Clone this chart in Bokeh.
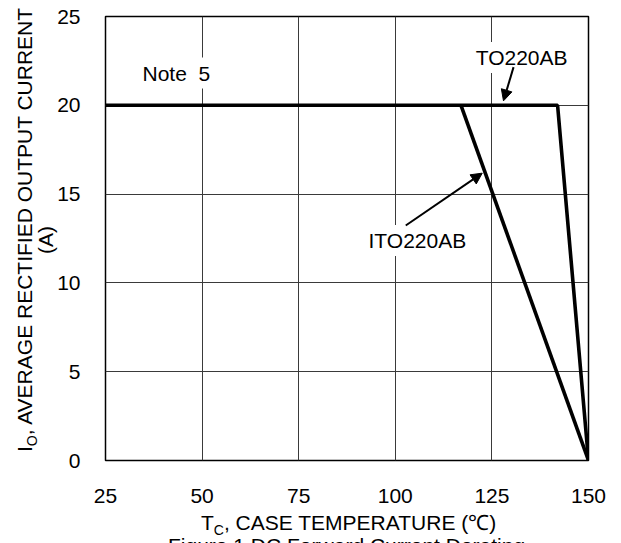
from bokeh.plotting import figure
from bokeh.models import Range1d, FixedTicker, Label, Arrow, NormalHead, Div
from bokeh.layouts import row, column
from bokeh.embed import file_html
from bokeh.resources import INLINE

# ---- data ----
temp_to220 = [25, 142, 150]
io_to220 = [20, 20, 0]
temp_ito220 = [117, 150]
io_ito220 = [20, 0]
x_ticks = [25, 50, 75, 100, 125, 150]
y_ticks = [0, 5, 10, 15, 20, 25]

FONT = "Liberation Sans"
FS = "21px"

p = figure(width=567, height=510, output_backend="svg", toolbar_location=None,
           x_range=Range1d(25, 150), y_range=Range1d(0, 25),
           min_border_left=50, min_border_top=16, min_border_right=33,
           min_border_bottom=50, margin=0)
p.background_fill_color = "white"
p.border_fill_color = None
p.outline_line_color = "black"
p.outline_line_width = 1.5

for ax in (p.xaxis[0], p.yaxis[0]):
    ax.major_tick_line_color = None
    ax.minor_tick_line_color = None
    ax.major_tick_out = 0
    ax.major_tick_in = 0
    ax.minor_tick_out = 0
    ax.minor_tick_in = 0
    ax.axis_line_color = None
    ax.major_label_text_font = FONT
    ax.major_label_text_font_size = FS
    ax.major_label_text_color = "black"
p.xaxis[0].ticker = FixedTicker(ticks=x_ticks)
p.yaxis[0].ticker = FixedTicker(ticks=y_ticks)
p.xaxis[0].major_label_standoff = 28
p.yaxis[0].major_label_standoff = 25

p.xgrid.ticker = FixedTicker(ticks=x_ticks)
p.ygrid.ticker = FixedTicker(ticks=y_ticks)
p.grid.grid_line_color = "#3a3a3a"
p.grid.grid_line_width = 1
p.grid.grid_line_alpha = 1.0

# curves
p.line(temp_to220, io_to220, line_color="black", line_width=3.6)
p.line(temp_ito220, io_ito220, line_color="black", line_width=3.6)

# helpers: page pixel -> data (frame spans x 104..588, y 16..460 on the page)
def dx(px):
    return 25 + (px - 104) / 3.872

def dy(py):
    return (460 - py) / 17.76

# annotations with white background
for txt, cx, cy in [("Note\u00a0\u00a05", 175, 72.5), ("TO220AB", 521, 57), ("ITO220AB", 416.5, 240)]:
    p.add_layout(Label(x=dx(cx), y=dy(cy), text=txt, text_font=FONT, text_font_size=FS,
                       text_align="center", text_baseline="middle", text_color="black",
                       background_fill_color="white", padding=4))

p.add_layout(Arrow(end=NormalHead(size=11, fill_color="black", line_color="black"),
                   x_start=130.6, y_start=22.15, x_end=128.0, y_end=20.25,
                   line_color="black", line_width=2))
p.add_layout(Arrow(end=NormalHead(size=11, fill_color="black", line_color="black"),
                   x_start=102.7, y_start=13.23, x_end=122.5, y_end=16.18,
                   line_color="black", line_width=2))

# y-axis title (rotated, HTML so that the subscript is real)
ylab_html = (
    '<div style="width:54px;height:460px;display:flex;align-items:center;justify-content:center;">'
    '<div style="flex:none;white-space:nowrap;text-align:center;font-family:\'Liberation Sans\';'
    'font-size:21px;line-height:21px;color:black;transform:translate(7.5px,0) rotate(-90deg);">'
    'I<sub style="font-size:14px;line-height:0;">O</sub>, AVERAGE RECTIFIED OUTPUT CURRENT<br>'
    '<span style="position:relative;left:-10px;">(A)</span></div></div>'
)
ydiv = Div(text=ylab_html, width=54, height=510, margin=0)

# x-axis title and (cut-off) figure caption
xlab_html = (
    '<div style="padding-left:201px;padding-top:2px;white-space:nowrap;font-family:\'Liberation Sans\';'
    'font-size:21px;line-height:21px;color:black;">'
    'T<sub style="font-size:14px;line-height:0;">C</sub>, CASE TEMPERATURE (\u2103)<br>'
    '<span style="position:relative;top:2px;margin-left:-33px;">Figure 1 DC Forward Current Derating</span></div>'
)
xdiv = Div(text=xlab_html, width=621, height=33, margin=0)

layout = column(row(ydiv, p, margin=0), xdiv, margin=0)

open("out.html", "w").write(file_html(layout, INLINE))
